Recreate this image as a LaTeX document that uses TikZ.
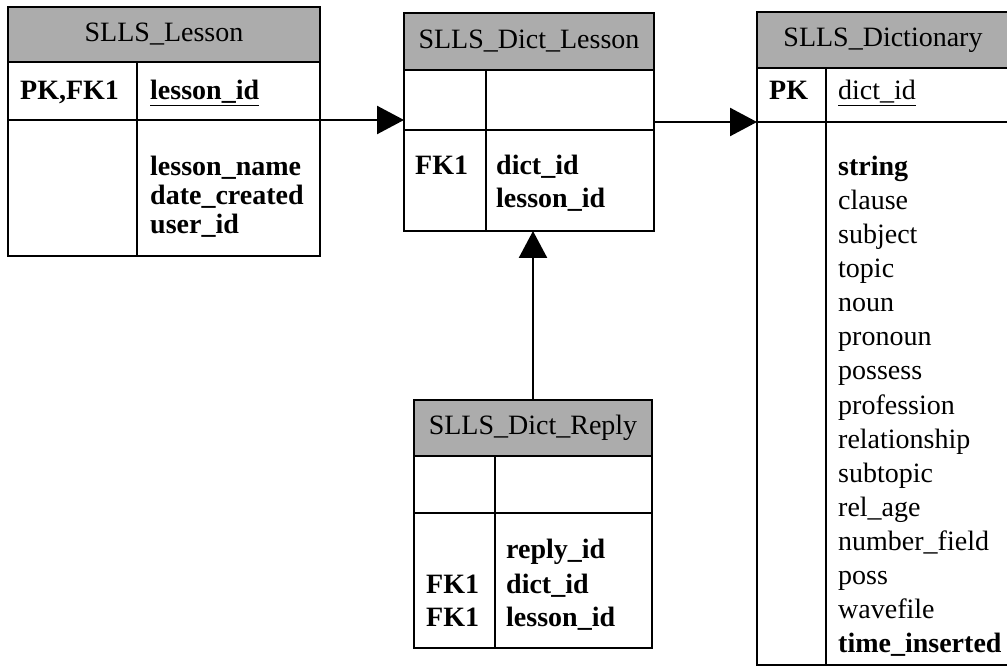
\documentclass[tikz,border=0pt]{standalone}
\usepackage{fontspec}
\setmainfont{Liberation Serif}
\usetikzlibrary{arrows.meta}
\definecolor{hdrgray}{RGB}{172,172,172}
\begin{document}
\begin{tikzpicture}[x=1pt,y=-1pt,
  frame/.style={draw=black, line width=2pt, inner sep=0pt, outer sep=0pt, anchor=north west},
  hdr/.style={frame, fill=hdrgray},
  htext/.style={font=\fontsize{28}{34}\selectfont, inner sep=0pt},
  bfld/.style={font=\fontsize{28}{34}\selectfont\bfseries, inner sep=0pt, anchor=base west},
  rfld/.style={font=\fontsize{28}{34}\selectfont, inner sep=0pt, anchor=base west},
  fk/.style={line width=2.5pt, -{Triangle[length=27pt,width=28pt]}}]
\useasboundingbox (0,0) rectangle (1007,668);

% ---------- SLLS_Lesson ----------
\node[hdr, minimum width=312pt, minimum height=55pt] (les-h) at (8,7) {};
\node[frame, minimum width=129pt, minimum height=58pt] (les-kk) at (8,62) {};
\node[frame, minimum width=183pt, minimum height=58pt] (les-kf) at (137,62) {};
\node[frame, minimum width=129pt, minimum height=136pt] (les-bk) at (8,120) {};
\node[frame, minimum width=183pt, minimum height=136pt] (les-bf) at (137,120) {};
\node[htext] (les-t) at (les-h.center) {SLLS\_Lesson};
\node[bfld] (les-pk) at (20,100) {PK,FK1};
\node[bfld] (les-id) at (150,100) {\underline{lesson\_id}};
\node[bfld] (les-f1) at (150,176) {lesson\_name};
\node[bfld] (les-f2) at (150,205) {date\_created};
\node[bfld] (les-f3) at (150,234) {user\_id};

% ---------- SLLS_Dict_Lesson ----------
\node[hdr, minimum width=250pt, minimum height=57pt] (dl-h) at (404,13) {};
\node[frame, minimum width=82pt, minimum height=60pt] (dl-kk) at (404,70) {};
\node[frame, minimum width=168pt, minimum height=60pt] (dl-kf) at (486,70) {};
\node[frame, minimum width=82pt, minimum height=101pt] (dl-bk) at (404,130) {};
\node[frame, minimum width=168pt, minimum height=101pt] (dl-bf) at (486,130) {};
\node[htext] (dl-t) at (dl-h.center) {SLLS\_Dict\_Lesson};
\node[bfld] (dl-fk) at (415,175) {FK1};
\node[bfld] (dl-f1) at (496,175) {dict\_id};
\node[bfld] (dl-f2) at (496,208) {lesson\_id};

% ---------- SLLS_Dict_Reply ----------
\node[hdr, minimum width=238pt, minimum height=56pt] (rp-h) at (414,400) {};
\node[frame, minimum width=81pt, minimum height=57pt] (rp-kk) at (414,456) {};
\node[frame, minimum width=157pt, minimum height=57pt] (rp-kf) at (495,456) {};
\node[frame, minimum width=81pt, minimum height=135pt] (rp-bk) at (414,513) {};
\node[frame, minimum width=157pt, minimum height=135pt] (rp-bf) at (495,513) {};
\node[htext] (rp-t) at (rp-h.center) {SLLS\_Dict\_Reply};
\node[bfld] (rp-f1) at (506,558) {reply\_id};
\node[bfld] (rp-fk1) at (426,593) {FK1};
\node[bfld] (rp-f2) at (506,593) {dict\_id};
\node[bfld] (rp-fk2) at (426,626) {FK1};
\node[bfld] (rp-f3) at (506,626) {lesson\_id};

% ---------- SLLS_Dictionary ----------
\node[hdr, minimum width=252pt, minimum height=56pt] (dc-h) at (757,12) {};
\node[frame, minimum width=69pt, minimum height=54pt] (dc-kk) at (757,68) {};
\node[frame, minimum width=183pt, minimum height=54pt] (dc-kf) at (826,68) {};
\node[frame, minimum width=69pt, minimum height=543pt] (dc-bk) at (757,122) {};
\node[frame, minimum width=183pt, minimum height=543pt] (dc-bf) at (826,122) {};
\node[htext] (dc-t) at (dc-h.center) {SLLS\_Dictionary};
\node[bfld] (dc-pk) at (769,100) {PK};
\node[rfld] (dc-id) at (838,100) {\underline{dict\_id}};
\node[bfld] (dc-f0) at (838,176) {string};
\foreach [count=\i] \f in {clause,subject,topic,noun,pronoun,possess,profession,
    relationship,subtopic,rel\_age,number\_field,poss,wavefile}
  \node[rfld] (dc-f\i) at (838,{176+34*\i}) {\f};
\node[bfld] (dc-f14) at (838,652) {time\_inserted};

% ---------- relationships ----------
\draw[fk] (les-kf.south east) -- (dl-h.west |- les-kf.south east);
\draw[fk] (dl-h.east |- dc-kk.south west) -- (dc-kk.south west);
\draw[fk] (rp-h.north) -- (rp-h.north |- dl-bf.south);
\end{tikzpicture}
\end{document}
